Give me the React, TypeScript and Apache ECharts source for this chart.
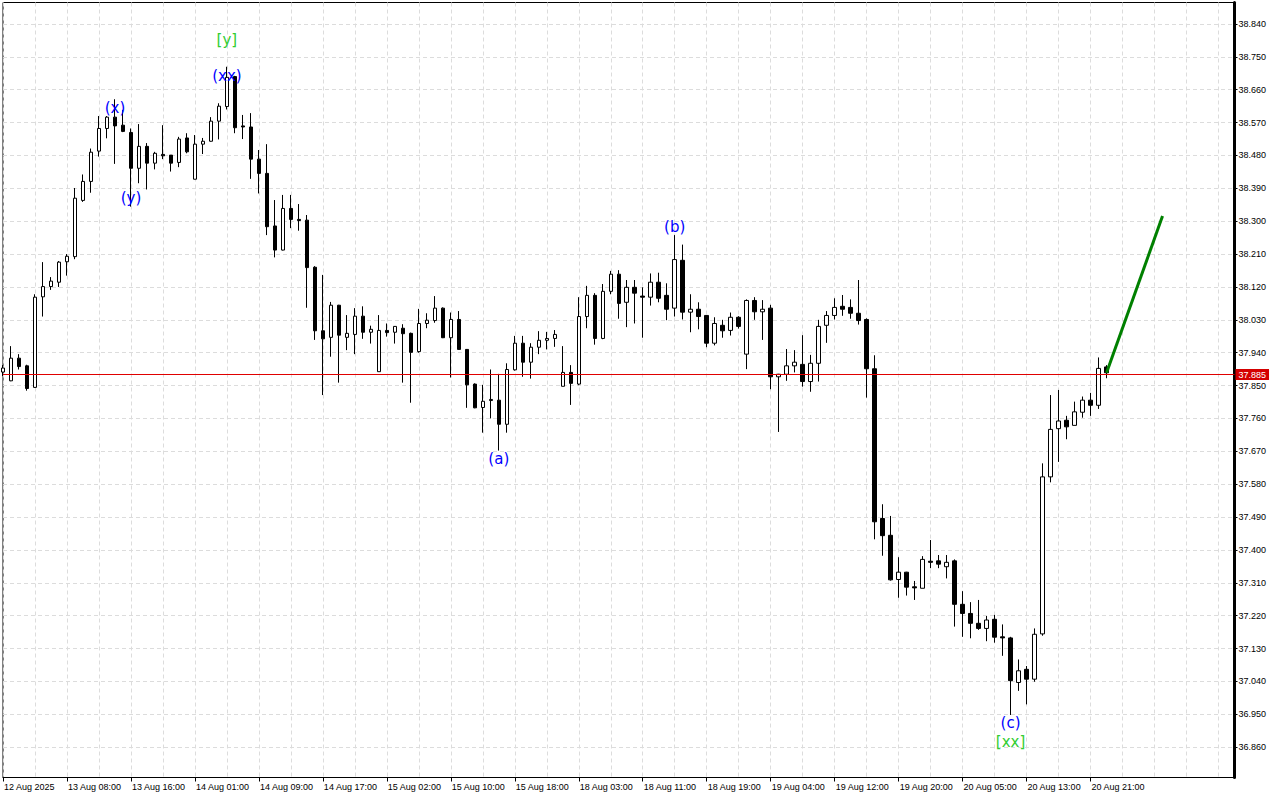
import React, { useEffect, useRef } from "react";
import * as echarts from "echarts";

// ---- data -----------------------------------------------------------
const xTickLabels = [
  "12 Aug 2025", "13 Aug 08:00", "13 Aug 16:00", "14 Aug 01:00", "14 Aug 09:00",
  "14 Aug 17:00", "15 Aug 02:00", "15 Aug 10:00", "15 Aug 18:00", "18 Aug 03:00",
  "18 Aug 11:00", "18 Aug 19:00", "19 Aug 04:00", "19 Aug 12:00", "19 Aug 20:00",
  "20 Aug 05:00", "20 Aug 13:00", "20 Aug 21:00",
];
const barsPerLabel = 8;
const slotCount = 155; // hourly slots incl. the empty area on the right

const opens = [
  37.887, 37.863, 37.925, 37.904, 37.845, 38.093, 38.121, 38.133, 38.189, 38.203,
  38.357, 38.409, 38.492, 38.554, 38.585, 38.563, 38.543, 38.445, 38.505, 38.459,
  38.483, 38.481, 38.461, 38.528, 38.415, 38.511, 38.519, 38.574, 38.614, 38.696,
  38.561, 38.558, 38.470, 38.431, 38.287, 38.221, 38.335, 38.305, 38.303, 38.174,
  38.000, 37.982, 38.070, 37.982, 37.990, 38.040, 37.996, 37.888, 38.001, 37.996,
  38.007, 37.993, 37.943, 38.020, 38.028, 38.062, 37.981, 38.031, 37.949, 37.854,
  37.790, 37.809, 37.810, 37.744, 37.893, 37.966, 37.914, 37.955, 37.974, 37.979,
  37.848, 37.886, 37.854, 38.039, 38.097, 37.979, 38.108, 38.155, 38.078, 38.119,
  38.095, 38.092, 38.133, 38.097, 38.062, 38.193, 38.051, 38.059, 38.042, 37.966,
  38.015, 38.001, 38.037, 37.936, 38.083, 38.052, 38.062, 37.874, 37.881, 37.904,
  37.908, 37.861, 37.911, 38.015, 38.042, 38.067, 38.064, 38.048, 38.031, 37.896,
  37.486, 37.440, 37.319, 37.339, 37.299, 37.295, 37.369, 37.370, 37.354, 37.370,
  37.251, 37.226, 37.199, 37.185, 37.210, 37.162, 37.159, 37.037, 37.073, 37.046,
  37.170, 37.600, 37.732, 37.755, 37.741, 37.777, 37.810, 37.796, 37.901,
];
const closes = [
  37.898, 37.925, 37.902, 37.842, 38.092, 38.121, 38.136, 38.188, 38.204, 38.363,
  38.409, 38.489, 38.554, 38.585, 38.561, 38.546, 38.445, 38.505, 38.459, 38.486,
  38.479, 38.459, 38.525, 38.490, 38.511, 38.519, 38.574, 38.615, 38.694, 38.556,
  38.558, 38.470, 38.431, 38.285, 38.221, 38.335, 38.305, 38.302, 38.173, 38.000,
  37.978, 38.070, 37.988, 37.993, 38.040, 37.996, 38.004, 38.001, 37.995, 38.012,
  37.992, 37.941, 38.020, 38.029, 38.062, 37.981, 38.031, 37.949, 37.852, 37.789,
  37.807, 37.812, 37.744, 37.894, 37.966, 37.914, 37.955, 37.974, 37.979, 37.990,
  37.886, 37.856, 38.039, 38.097, 37.979, 38.108, 38.155, 38.075, 38.119, 38.103,
  38.092, 38.133, 38.089, 38.059, 38.195, 38.051, 38.059, 38.039, 37.966, 38.020,
  38.000, 38.037, 38.012, 38.083, 38.052, 38.059, 37.874, 37.881, 37.904, 37.914,
  37.861, 37.911, 38.012, 38.042, 38.064, 38.059, 38.048, 38.028, 37.896, 37.477,
  37.439, 37.318, 37.339, 37.298, 37.296, 37.374, 37.366, 37.361, 37.366, 37.251,
  37.226, 37.199, 37.185, 37.208, 37.161, 37.159, 37.042, 37.069, 37.046, 37.169,
  37.600, 37.730, 37.753, 37.737, 37.778, 37.810, 37.796, 37.897, 37.885,
];
const lows = [
  37.876, 37.862, 37.894, 37.836, 37.844, 38.039, 38.112, 38.120, 38.151, 38.196,
  38.353, 38.378, 38.477, 38.527, 38.457, 38.544, 38.340, 38.404, 38.387, 38.442,
  38.470, 38.436, 38.448, 38.486, 38.415, 38.484, 38.518, 38.524, 38.606, 38.541,
  38.525, 38.416, 38.376, 38.262, 38.201, 38.220, 38.281, 38.274, 38.063, 37.975,
  37.824, 37.929, 37.858, 37.947, 37.936, 37.978, 37.965, 37.888, 37.984, 37.965,
  37.858, 37.803, 37.940, 38.007, 38.022, 37.980, 37.872, 37.949, 37.789, 37.788,
  37.721, 37.760, 37.672, 37.721, 37.891, 37.874, 37.869, 37.936, 37.949, 37.956,
  37.848, 37.797, 37.851, 38.007, 37.962, 37.977, 38.100, 38.033, 38.010, 38.020,
  37.981, 38.069, 38.078, 38.029, 38.039, 38.031, 37.996, 38.004, 37.955, 37.960,
  37.981, 37.987, 38.006, 37.895, 38.030, 37.975, 37.840, 37.723, 37.863, 37.886,
  37.847, 37.833, 37.861, 37.967, 38.031, 38.041, 38.033, 38.017, 37.817, 37.429,
  37.384, 37.316, 37.269, 37.275, 37.263, 37.295, 37.350, 37.350, 37.322, 37.190,
  37.162, 37.158, 37.181, 37.150, 37.146, 37.110, 36.948, 37.014, 36.977, 37.039,
  37.165, 37.585, 37.641, 37.703, 37.741, 37.762, 37.767, 37.786, 37.870,
];
const highs = [
  37.906, 37.958, 37.936, 37.907, 38.100, 38.188, 38.147, 38.191, 38.210, 38.391,
  38.428, 38.499, 38.588, 38.588, 38.634, 38.605, 38.554, 38.566, 38.514, 38.490,
  38.563, 38.481, 38.531, 38.541, 38.536, 38.528, 38.585, 38.623, 38.723, 38.698,
  38.591, 38.596, 38.495, 38.511, 38.358, 38.372, 38.372, 38.347, 38.317, 38.177,
  38.153, 38.079, 38.071, 38.043, 38.062, 38.067, 38.014, 38.043, 38.020, 38.013,
  38.018, 37.995, 38.060, 38.048, 38.095, 38.064, 38.050, 38.054, 37.950, 37.856,
  37.852, 37.894, 37.882, 37.911, 37.986, 37.986, 37.966, 37.999, 37.997, 38.002,
  37.958, 37.906, 38.092, 38.123, 38.103, 38.128, 38.164, 38.166, 38.139, 38.139,
  38.119, 38.157, 38.159, 38.130, 38.262, 38.236, 38.100, 38.078, 38.043, 38.037,
  38.030, 38.050, 38.040, 38.086, 38.092, 38.084, 38.071, 37.882, 37.950, 37.947,
  37.988, 37.934, 38.030, 38.054, 38.089, 38.098, 38.086, 38.139, 38.034, 37.933,
  37.525, 37.493, 37.380, 37.340, 37.315, 37.383, 37.427, 37.386, 37.386, 37.374,
  37.287, 37.257, 37.263, 37.219, 37.222, 37.196, 37.162, 37.100, 37.082, 37.185,
  37.637, 37.824, 37.838, 37.767, 37.806, 37.820, 37.830, 37.927, 37.906,
];

const priceTicks = [
  38.84, 38.75, 38.66, 38.57, 38.48, 38.39, 38.3, 38.21, 38.12, 38.03, 37.94, 37.85,
  37.76, 37.67, 37.58, 37.49, 37.4, 37.31, 37.22, 37.13, 37.04, 36.95, 36.86,
];
const priceMin = 36.7768;
const priceMax = 38.8989;
const currentPrice = 37.885;

const forecastIndex = [138, 145];
const forecastPrice = [37.885, 38.314];

const waveTexts = ["(x)", "(y)", "(xx)", "[y]", "(a)", "(b)", "(c)", "[xx]"];
const waveIndex = [14, 16, 28, 28, 62, 84, 126, 126];
const wavePrice = [38.609, 38.364, 38.697, 38.796, 37.648, 38.285, 36.925, 36.875];
const waveDegree = ["minor", "minor", "minor", "major", "minor", "minor", "minor", "major"];

// ---- chart ----------------------------------------------------------
const BLUE = "#0000ff";
const GREEN = "#32cd32";
const GRID = "#dcdcdc";
const AXIS_FONT = "'Liberation Sans', Arial, sans-serif";

export default function App() {
  const ref = useRef<HTMLDivElement>(null);

  useEffect(() => {
    if (!ref.current) return;
    const chart = echarts.init(ref.current, null, { renderer: "svg" });

    const categories = Array.from({ length: slotCount }, (_, i) => String(i));
    const labelAt = (i: number) =>
      i % barsPerLabel === 0 && i / barsPerLabel < xTickLabels.length
        ? xTickLabels[i / barsPerLabel]
        : "";
    const candles = opens.map((o, i) => [o, closes[i], lows[i], highs[i]]);
    const forecast = forecastIndex.map((x, i) => [x, forecastPrice[i]]);
    const waves = waveTexts.map((t, i) => ({
      value: [waveIndex[i], wavePrice[i]],
      label: { formatter: t, color: waveDegree[i] === "major" ? GREEN : BLUE },
    }));

    const option: any = {
      animation: false,
      backgroundColor: "#ffffff",
      textStyle: { fontFamily: AXIS_FONT },
      grid: {
        left: 2.5,
        top: 2.5,
        right: 45.5,
        bottom: 22.5,
        show: true,
        borderColor: "#000",
        borderWidth: 1,
        backgroundColor: "#fff",
      },
      xAxis: {
        type: "category",
        data: categories,
        boundaryGap: false,
        axisLine: { show: true, lineStyle: { color: "#000", width: 1 } },
        axisTick: {
          show: true,
          length: 4,
          lineStyle: { color: "#000" },
          interval: (i: number) => labelAt(i) !== "",
        },
        axisLabel: {
          show: true,
          interval: (i: number) => labelAt(i) !== "",
          formatter: (_v: string, i: number) => labelAt(i),
          align: "left",
          margin: 4,
          color: "#000",
          fontSize: 9,
          lineHeight: 11,
          fontFamily: AXIS_FONT,
          padding: [0, 0, 0, 1],
        },
        splitLine: {
          show: true,
          interval: (i: number) => i % 4 === 0,
          lineStyle: { color: GRID, type: [4, 3], width: 1 },
        },
      },
      yAxis: {
        type: "value",
        position: "right",
        min: priceMin,
        max: priceMax,
        scale: true,
        axisLine: { show: true, lineStyle: { color: "#000", width: 3 } },
        axisTick: {
          show: true,
          length: 3,
          lineStyle: { color: "#000" },
          customValues: priceTicks,
        },
        axisLabel: {
          show: true,
          customValues: priceTicks,
          formatter: (v: number) => v.toFixed(3),
          margin: 4,
          color: "#000",
          fontSize: 9,
          fontFamily: AXIS_FONT,
        },
        splitLine: {
          show: true,
          lineStyle: { color: GRID, type: [4, 3], width: 1 },
        },
      },
      series: [
        {
          type: "candlestick",
          data: candles,
          barWidth: 4,
          itemStyle: {
            color: "#ffffff",
            color0: "#000000",
            borderColor: "#000000",
            borderColor0: "#000000",
            borderWidth: 1,
          },
          markLine: {
            silent: true,
            symbol: ["none", "none"],
            data: [{ yAxis: currentPrice }],
            lineStyle: { color: "#e00000", width: 1, type: "solid" },
            label: {
              show: true,
              position: "end",
              distance: 1,
              formatter: () => currentPrice.toFixed(3),
              backgroundColor: "#d40000",
              color: "#ffffff",
              fontSize: 9,
              lineHeight: 10,
              padding: [1, 3, 0, 3],
              fontFamily: AXIS_FONT,
            },
          },
          z: 2,
        },
        {
          type: "line",
          data: forecast,
          symbol: "none",
          lineStyle: { color: "#008000", width: 3 },
          z: 4,
        },
        {
          type: "scatter",
          data: waves,
          symbolSize: 0,
          itemStyle: { color: "transparent" },
          label: {
            show: true,
            position: "inside",
            fontSize: 15,
            textBorderWidth: 0,
            opacity: 1,
            fontFamily: "'DejaVu Sans', sans-serif",
          },
          z: 5,
        },
      ],
    };

    chart.setOption(option);
    return () => chart.dispose();
  }, []);

  return (
    <div
      ref={ref}
      style={{ position: "fixed", left: 0, top: 0, width: 1280, height: 800, background: "#fff" }}
    />
  );
}
